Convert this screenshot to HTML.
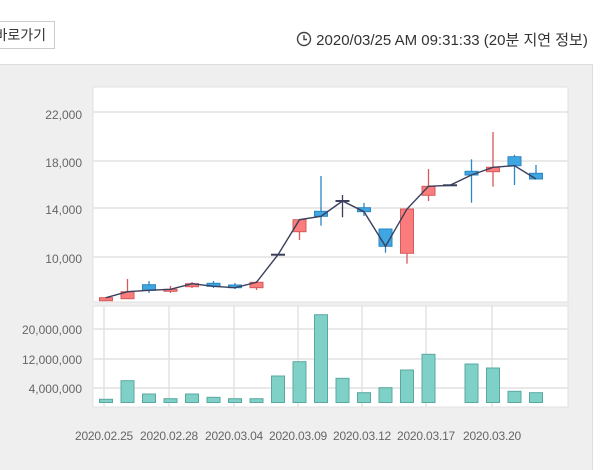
<!DOCTYPE html>
<html><head><meta charset="utf-8"><style>
body{margin:0;width:600px;height:469px;overflow:hidden;background:#fff;font-family:"Liberation Sans","Noto Sans CJK KR",sans-serif;position:relative}
.btn{position:absolute;left:-20px;top:21px;width:75px;height:28px;border:1px solid #ccc;box-sizing:border-box;font-size:14px;color:#333;line-height:26px;text-align:right;padding-right:8px;background:#fff}
.time{position:absolute;left:296px;top:29px;font-size:15px;color:#333;white-space:nowrap}
.panel{position:absolute;left:0;top:64px;width:592px;height:405px;background:#efefef;border-top:1px solid #ddd;border-right:1px solid #ddd}
</style></head><body>
<div class="btn">바로가기</div>
<div class="time"><svg width="16" height="16" style="vertical-align:-2px"><circle cx="8" cy="8" r="6.5" fill="none" stroke="#444" stroke-width="1.4"/><path d="M8 4V8.5H11" fill="none" stroke="#444" stroke-width="1.4"/></svg> 2020/03/25 AM 09:31:33 (20분 지연 정보)</div>
<div class="panel"></div>
<svg id="c" width="600" height="469" style="position:absolute;left:0;top:0" font-family="Liberation Sans, sans-serif">
<rect x="93" y="87" width="475" height="215" fill="#fff" stroke="#e2e2e2"/>
<rect x="93" y="306" width="475" height="101" fill="#fff" stroke="#e2e2e2"/>
<g stroke="#e2e2e2" stroke-width="1.5">
<line x1="93" x2="568" y1="112" y2="112"/><line x1="93" x2="568" y1="161" y2="161"/><line x1="93" x2="568" y1="208" y2="208"/><line x1="93" x2="568" y1="257" y2="257"/>
<line x1="93" x2="568" y1="329" y2="329"/><line x1="93" x2="568" y1="359" y2="359"/><line x1="93" x2="568" y1="388" y2="388"/>
<line x1="104" x2="104" y1="306" y2="407"/><line x1="169" x2="169" y1="306" y2="407"/><line x1="234" x2="234" y1="306" y2="407"/><line x1="298" x2="298" y1="306" y2="407"/><line x1="362" x2="362" y1="306" y2="407"/><line x1="426" x2="426" y1="306" y2="407"/><line x1="492" x2="492" y1="306" y2="407"/>
</g>
<g font-size="12" fill="#666" text-anchor="end">
<text x="82" y="119">22,000</text><text x="82" y="167">18,000</text><text x="82" y="214">14,000</text><text x="82" y="263">10,000</text>
<text x="82" y="334">20,000,000</text><text x="82" y="364">12,000,000</text><text x="82" y="393">4,000,000</text>
</g>
<g font-size="12" fill="#666" text-anchor="middle" letter-spacing="-0.2">
<text x="104" y="440">2020.02.25</text><text x="169" y="440">2020.02.28</text><text x="234" y="440">2020.03.04</text><text x="298" y="440">2020.03.09</text><text x="362" y="440">2020.03.12</text><text x="426" y="440">2020.03.17</text><text x="492" y="440">2020.03.20</text>
</g>
<g id="g"></g>
</svg>
<script>
var C=[["r",297.7,300.7,297,301],["r",291.7,298.7,279,299],["b",284.7,290.3,281,293],["r",289.3,291.3,286,293],["r",283.7,286.7,282,288],["b",283.3,286.3,281,288],["b",285,287.7,283,289],["r",282.3,287.7,281,290],["d",254.7,254.7,254.7,254.7],["r",219.7,231.7,219,240],["b",211.3,216.3,176,225.7],["d",201,201,195,217.3],["b",207.7,211.7,203,216],["b",229,246.3,229,252.7],["r",209,253.3,209,263.7],["r",186.3,195.3,169,201],["d",185.3,185.3,185.3,185.3],["b",171.3,175,159.3,202.7],["r",167.3,171.7,132,186.7],["b",156.7,165.7,154.7,185],["b",173.3,179,165,179]];
var V=[399.3,380.7,394,398.7,394,397.3,398.7,398.7,376,361.7,314.7,378.3,392.7,387.7,370,354.3,null,364,368,391.3,392.7];
var s="",pts=[];
C.forEach(function(c,i){var x=106+i*21.5;var t=c[0];
var col=t=="r"?"#d65a5a":(t=="b"?"#2c86c4":"#3a3f5c");var fill=t=="r"?"#fb7c7c":"#3ea6e0";
s+='<line x1="'+x+'" x2="'+x+'" y1="'+c[3]+'" y2="'+c[4]+'" stroke="'+col+'" stroke-width="1.3"/>';
if(t=="d")s+='<line x1="'+(x-7)+'" x2="'+(x+7)+'" y1="'+c[1]+'" y2="'+c[1]+'" stroke="#3a3f5c" stroke-width="2"/>';
else s+='<rect x="'+(x-6.5)+'" y="'+c[1]+'" width="13" height="'+Math.max(2,c[2]-c[1])+'" fill="'+fill+'" stroke="'+col+'"/>';
var cl=t=="r"?c[1]:(t=="b"?c[2]:c[1]);pts.push(x+","+cl);
if(V[i]!=null)s+='<rect x="'+(x-6.5)+'" y="'+V[i]+'" width="13" height="'+(402.5-V[i])+'" fill="#7fd0c6" stroke="#5aa9a0"/>';});
s+='<polyline points="'+pts.join(" ")+'" fill="none" stroke="#3a3f5c" stroke-width="1.4"/>';
document.getElementById("g").innerHTML=s;
</script>
</body></html>
